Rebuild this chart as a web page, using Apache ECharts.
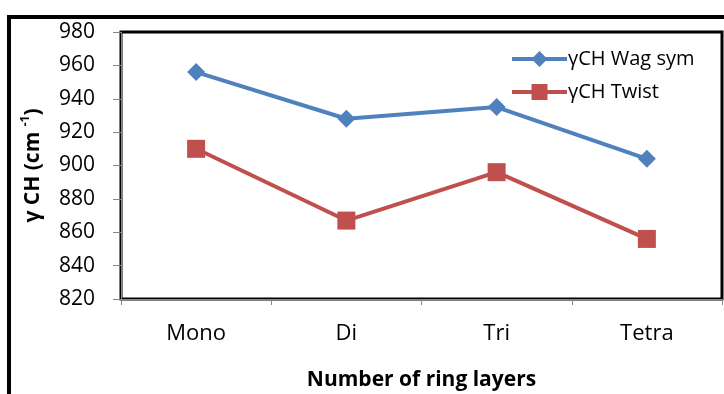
<!DOCTYPE html>
<html><head><meta charset="utf-8">
<script src="https://cdn.jsdelivr.net/npm/echarts@6/dist/echarts.min.js"></script>
<style>html,body{margin:0;padding:0;background:#fff}#c{width:724px;height:394px}</style>
</head><body><div id="c"></div>
<script>
const categories = ['Mono', 'Di', 'Tri', 'Tetra'];
const wagSym = [956, 928, 935, 904];
const twist = [910, 867, 896, 856];
const seriesNames = ['γCH Wag sym', 'γCH Twist'];
const yMin = 820, yMax = 980, yStep = 20;

const font = '"Open Sans", "Liberation Sans", sans-serif';
const chart = echarts.init(document.getElementById('c'), null, {renderer: 'canvas'});
chart.setOption({
  animation: false,
  backgroundColor: '#fff',
  graphic: [{
    type: 'rect', shape: {x: 9, y: 17, width: 800, height: 500},
    style: {fill: 'none', stroke: '#000', lineWidth: 4}, z: -1
  }],
  grid: {left: 121, top: 32, width: 601, height: 267, show: true, borderColor: '#000', borderWidth: 3,
         backgroundColor: 'transparent', containLabel: false, outerBoundsMode: 'none'},
  legend: {
    data: seriesNames, orient: 'vertical', left: 505, top: 44, itemGap: 13,
    itemWidth: 55, itemHeight: 20,
    lineStyle: {width: 4},
    textStyle: {fontFamily: font, fontSize: 20, color: '#000', padding: [0, 0, 0, -4]}
  },
  xAxis: {
    type: 'category', data: categories, boundaryGap: true,
    axisLine: {lineStyle: {color: '#868686', width: 1}},
    axisTick: {show: true, length: 6, lineStyle: {color: '#868686'}},
    axisLabel: {fontFamily: font, fontSize: 22, color: '#000', margin: 24},
    name: 'Number of ring layers', nameLocation: 'middle', nameGap: 71,
    nameTextStyle: {fontFamily: font, fontSize: 21, fontWeight: 'bold', color: '#000'}
  },
  yAxis: {
    type: 'value', min: yMin, max: yMax, interval: yStep,
    axisLine: {show: true, lineStyle: {color: '#868686'}},
    axisTick: {show: true, length: 8, lineStyle: {color: '#868686'}},
    splitLine: {show: false},
    axisLabel: {fontFamily: font, fontSize: 21, color: '#000', margin: 26},
    name: '{b|γ CH (cm }{s|-1}{b|)}', nameLocation: 'middle', nameGap: 77, nameRotate: 90,
    nameTextStyle: {
      rich: {
        b: {fontFamily: font, fontSize: 21, fontWeight: 'bold', color: '#000', lineHeight: 24, verticalAlign: 'bottom'},
        s: {fontFamily: font, fontSize: 12, fontWeight: 'bold', color: '#000', lineHeight: 24, verticalAlign: 'top'}
      }
    }
  },
  series: [
    {name: seriesNames[0], type: 'line', data: wagSym, symbol: 'diamond', symbolSize: 18,
     lineStyle: {color: '#4F81BD', width: 4}, itemStyle: {color: '#4F81BD'}},
    {name: seriesNames[1], type: 'line', data: twist, symbol: 'rect', symbolSize: 18,
     lineStyle: {color: '#C0504D', width: 4}, itemStyle: {color: '#C0504D'}}
  ]
});
</script></body></html>
